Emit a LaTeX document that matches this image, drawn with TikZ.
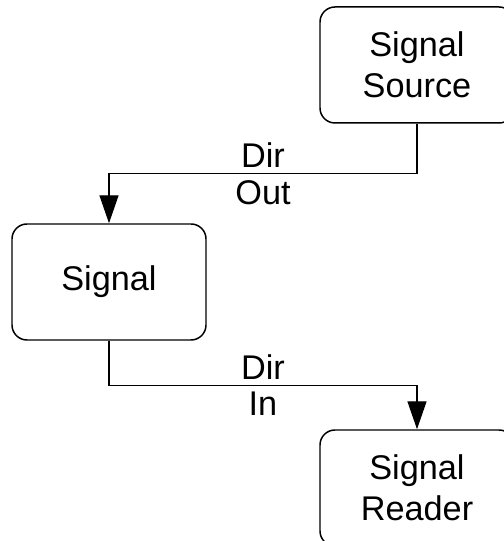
\documentclass[tikz,border=0pt]{standalone}
\usepackage{fontspec}
\setmainfont{Liberation Sans}
\usetikzlibrary{arrows.meta}
\begin{document}
\begin{tikzpicture}[
        font=\fontsize{19.5}{23.3}\selectfont,
        line width=0.85pt,
        block/.style={draw, rounded corners=0.3cm, minimum width=3.88cm, minimum height=2.32cm, align=center},
        flow/.style={-{Triangle[length=0.56cm,width=0.38cm]}}
    ]
        \useasboundingbox (0,0) rectangle (10.08,10.82);
        \clip (0,0) rectangle (10.08,10.82);
        % draw the three blocks
        \node[block] (source) at (8.34,9.52) {Signal\\Source};
        \node[block] (signal) at (2.18,5.18) {Signal};
        \node[block] (reader) at (8.34,1.06) {Signal\\Reader};
        % source to signal
        \draw[flow] (source.south) -- ++(0,-1) -| (signal.north)
            node[pos=0.25, above] (dirout) {Dir}
            node[pos=0.25, below] (out) {Out};
        % signal to reader
        \draw[flow] (signal.south) -- ++(0,-0.9) -| (reader.north)
            node[pos=0.25, above] (dirin) {Dir}
            node[pos=0.25, below] (in) {In};
    \end{tikzpicture}
\end{document}
